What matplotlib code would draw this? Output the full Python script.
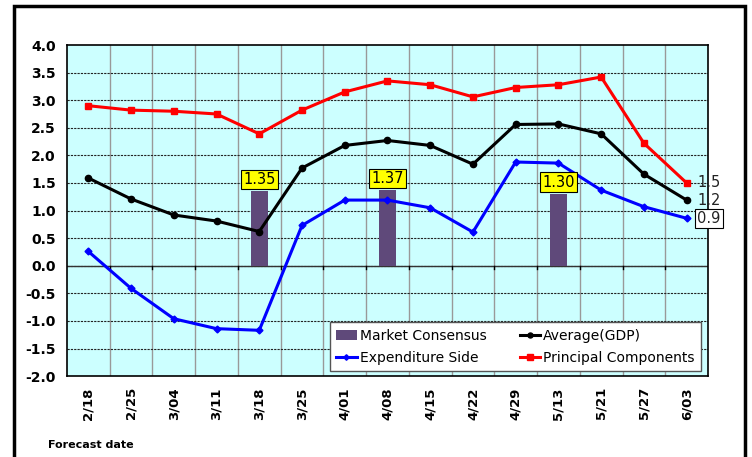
import numpy as np
import matplotlib.pyplot as plt
from matplotlib.patches import Rectangle

dates = ['2/18', '2/25', '3/04', '3/11', '3/18', '3/25', '4/01', '4/08',
         '4/15', '4/22', '4/29', '5/13', '5/21', '5/27', '6/03']
principal = [2.90, 2.82, 2.80, 2.75, 2.39, 2.82, 3.15, 3.35,
             3.28, 3.06, 3.23, 3.28, 3.42, 2.22, 1.50]
average = [1.59, 1.21, 0.92, 0.81, 0.62, 1.77, 2.18, 2.27,
           2.18, 1.84, 2.56, 2.57, 2.39, 1.66, 1.19]
expenditure = [0.26, -0.41, -0.96, -1.14, -1.17, 0.73, 1.19, 1.19,
               1.05, 0.61, 1.88, 1.86, 1.37, 1.07, 0.86]
consensus_dates = ['3/18', '4/08', '5/13']
consensus = [1.35, 1.37, 1.30]

fig = plt.figure(figsize=(7.52, 4.57), dpi=100)
ax = fig.add_axes([0.089, 0.177, 0.8525, 0.7245])
ax.set_facecolor('#CCFFFF')

x = np.arange(len(dates))
bx = [dates.index(d) for d in consensus_dates]

# grid
for b in np.arange(0.5, len(dates) - 0.5):
    ax.axvline(b, color='#999999', lw=1, zorder=0)
for v in np.arange(-1.5, 4.0, 0.5):
    ax.axhline(v, color='#222222', lw=0.8, ls=(0, (2, 1)), zorder=0)
ax.axhline(0, color='#333333', lw=1, zorder=1)
for b in np.arange(0.5, len(dates) - 0.5):
    ax.plot([b, b], [0, -0.05], color='black', lw=1, zorder=1)

bars = ax.bar(bx, consensus, width=0.4, color='#5F497A', zorder=2,
              label='Market Consensus')
for xi, v in zip(bx, consensus):
    ax.text(xi, v + 0.08, f'{v:.2f}', ha='center', va='bottom', fontsize=10.5,
            bbox=dict(boxstyle='square,pad=0.15', fc='yellow', ec='black', lw=0.8),
            zorder=5)

l_exp, = ax.plot(x, expenditure, color='#0000FF', lw=2.2, marker='D', ms=3.5,
                 zorder=3, label='Expenditure Side')
l_avg, = ax.plot(x, average, color='black', lw=2.2, marker='o', ms=4.5,
                 zorder=3, label='Average(GDP)')
l_pc, = ax.plot(x, principal, color='#FF0000', lw=2.2, marker='s', ms=5,
                zorder=3, label='Principal Components')

# end labels
ax.text(x[-1] + 0.25, principal[-1], f'{principal[-1]:.1f}', va='center',
        ha='left', fontsize=10.5, color='#222222', zorder=5)
ax.text(x[-1] + 0.25, average[-1], f'{average[-1]:.1f}', va='center',
        ha='left', fontsize=10.5, color='#222222', zorder=5)
ax.text(x[-1] + 0.25, expenditure[-1], f'{expenditure[-1]:.1f}', va='center',
        ha='left', fontsize=10.5, color='#222222', zorder=5,
        bbox=dict(boxstyle='square,pad=0.15', fc='white', ec='black', lw=0.8))

ax.set_xlim(-0.5, len(dates) - 0.5)
ax.set_ylim(-2.0, 4.0)
ax.set_yticks(np.arange(-2.0, 4.01, 0.5))
ax.set_yticklabels([f'{v:.1f}' for v in np.arange(-2.0, 4.01, 0.5)],
                   fontweight='bold', fontsize=10)
ax.set_xticks(x)
ax.set_xticklabels(dates, rotation=90, fontweight='bold', fontsize=9.5)
ax.tick_params(length=0, pad=8)
for s in ax.spines.values():
    s.set_color('black')
    s.set_linewidth(1.2)

leg = ax.legend(handles=[bars, l_exp, l_avg, l_pc], ncol=2,
                loc='lower right', bbox_to_anchor=(0.989, 0.015),
                borderaxespad=0, fontsize=10, frameon=True, fancybox=False,
                framealpha=1, edgecolor='#555555', handlelength=1.5,
                handletextpad=0.2, columnspacing=2.4, borderpad=0.45,
                labelspacing=0.6, markerscale=0.8)
leg.get_frame().set_linewidth(1.0)
leg.set_zorder(6)

fig.text(48 / 752, 1 - 445 / 457, 'Forecast date', fontsize=8,
         fontweight='bold', va='center', ha='left')

fig.patches.append(Rectangle((14 / 752, -0.05), (745 - 14) / 752,
                             1 - 6 / 457 + 0.05, transform=fig.transFigure,
                             fill=False, ec='black', lw=2.5))

fig.savefig('out.png', dpi=100)
